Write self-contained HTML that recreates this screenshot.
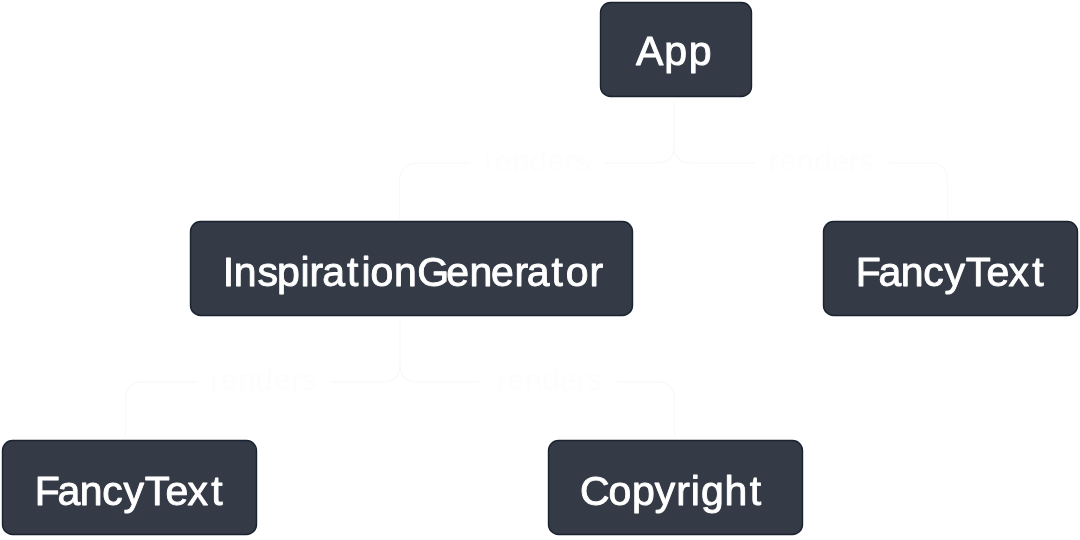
<!DOCTYPE html>
<html lang="en">
<head>
<meta charset="utf-8">
<title>Render tree</title>
<style>
html,body{margin:0;padding:0;background:#ffffff;}
body{width:1080px;height:540px;overflow:hidden;position:relative;font-family:"Liberation Sans",sans-serif;}
svg{position:absolute;left:0;top:0;display:block;will-change:transform;}
.box{fill:#343A46;stroke:#1A2330;stroke-width:1.4;}
.lbl{fill:#FFFFFF;stroke:#FFFFFF;stroke-width:0.9px;stroke-linejoin:round;font-family:"Liberation Sans",sans-serif;font-size:41px;text-anchor:start;}
.ln{fill:none;stroke:#F7F8FA;stroke-width:1.2;}
.rd{fill:#FDFDFE;font-family:"Liberation Sans",sans-serif;font-size:30px;text-anchor:start;}
</style>
</head>
<body>
<svg width="1080" height="540" viewBox="0 0 1080 540">
  <!-- connectors -->
  <path class="ln" d="M674 102 V146 Q674 163 657 163 H604.5 M469.5 163 H421 Q399.5 163 399.5 182 V218"/>
  <path class="ln" d="M674 146 Q674 163 691 163 H755 M889.500 163 H930 Q947.5 163 947.5 181.500 V218"/>
  <path class="ln" d="M400 320 V365 Q400 382 383 382 H331 M196.500 382 H143 Q125.5 382 125.5 399.500 V437"/>
  <path class="ln" d="M400 365 Q400 382 417 382 H479 M617 382 H657 Q674.5 382 674.5 399.500 V437"/>
  <text class="rd" x="484" y="171" textLength="107" lengthAdjust="spacingAndGlyphs">renders</text>
  <text class="rd" x="769" y="171" textLength="106" lengthAdjust="spacingAndGlyphs">renders</text>
  <text class="rd" x="210" y="390" textLength="107" lengthAdjust="spacingAndGlyphs">renders</text>
  <text class="rd" x="497.5" y="390" textLength="105" lengthAdjust="spacingAndGlyphs">renders</text>
  <!-- nodes -->
  <rect class="box" x="600.5" y="2.5" width="151" height="94" rx="10"/>
  <rect class="box" x="190.5" y="221.5" width="442" height="94" rx="10"/>
  <rect class="box" x="823.5" y="221.5" width="254" height="94" rx="10"/>
  <rect class="box" x="2.5" y="440.5" width="254" height="94" rx="10"/>
  <rect class="box" x="548.5" y="440.5" width="254" height="94" rx="10"/>
  <text class="lbl" x="636.1 664.2 688.7" y="64.7">App</text>
  <text class="lbl" x="222.7 233.8 257.4 276.9 300.4 309.5 322.3 346.9 361.5 370.6 394.0 417.2 446.3 469.4 490.9 514.4 526.7 551.4 565.7 589.5" y="285.7">InspirationGenerator</text>
  <text class="lbl" x="855.8 878.4 900.8 923.3 944.4 965.8 986.4 1008.6 1032.3" y="285.7">FancyText</text>
  <text class="lbl" x="34.8 57.4 79.8 102.3 123.4 144.8 165.4 187.6 211.3" y="504.7">FancyText</text>
  <text class="lbl" x="579.9 608.6 632.0 654.7 676.2 690.8 701.0 724.4 749.8" y="504.7">Copyright</text>
</svg>
</body>
</html>
